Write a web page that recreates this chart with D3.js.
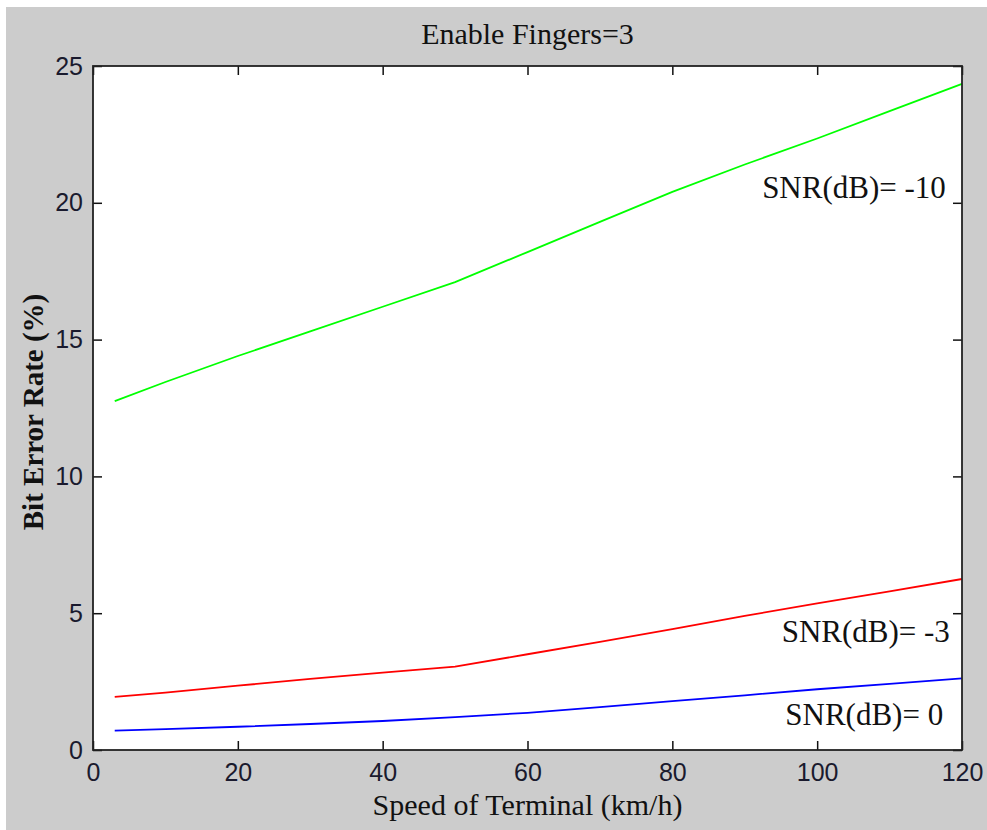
<!DOCTYPE html>
<html>
<head>
<meta charset="utf-8">
<script src="https://cdn.jsdelivr.net/npm/d3@7"></script>
<style>
  html, body { margin: 0; padding: 0; background: #ffffff; }
  svg { display: block; }
</style>
</head>
<body>
<svg id="chart" width="987" height="830"></svg>
<script>
// ---- data ----
const speeds = [3, 10, 20, 30, 40, 50, 60, 70, 80, 90, 100, 110, 120];
const berSnrMinus10 = [12.75, 13.45, 14.4, 15.3, 16.2, 17.1, 18.2, 19.3, 20.4, 21.4, 22.35, 23.35, 24.35];
const berSnrMinus3 = [1.94, 2.1, 2.35, 2.6, 2.83, 3.05, 3.5, 3.95, 4.42, 4.9, 5.36, 5.8, 6.25];
const berSnr0 = [0.71, 0.76, 0.85, 0.95, 1.06, 1.2, 1.36, 1.57, 1.79, 2.0, 2.22, 2.42, 2.62];
const seriesNames = ["SNR(dB)= -10", "SNR(dB)= -3", "SNR(dB)= 0"];
const xTicks = [0, 20, 40, 60, 80, 100, 120];
const yTicks = [0, 5, 10, 15, 20, 25];
const titleText = "Enable Fingers=3";
const xLabel = "Speed of Terminal (km/h)";
const yLabel = "Bit Error Rate (%)";

// ---- layout ----
const svg = d3.select("#chart");
const W = 987, H = 830;
const plot = { left: 93, top: 66, right: 962, bottom: 750 };
const serif = "'Liberation Serif', 'Times New Roman', serif";
const sans = "'Liberation Sans', Arial, sans-serif";

svg.append("rect").attr("x", 6).attr("y", 7).attr("width", W - 6).attr("height", H - 7)
  .attr("fill", "#cccccc");

svg.append("rect")
  .attr("x", plot.left).attr("y", plot.top)
  .attr("width", plot.right - plot.left).attr("height", plot.bottom - plot.top)
  .attr("fill", "#ffffff");

const x = d3.scaleLinear().domain([0, 120]).range([plot.left, plot.right]);
const y = d3.scaleLinear().domain([0, 25]).range([plot.bottom, plot.top]);

function styleAxis(g, family, size) {
  g.attr("font-family", family).attr("font-size", size);
  g.select(".domain").remove();
  g.selectAll(".tick line").attr("stroke", "#111").attr("stroke-width", 1.5);
  g.selectAll(".tick text").attr("fill", "#1a1a2e");
}

const tickLen = 9;
svg.append("g").attr("transform", `translate(0,${plot.bottom})`)
  .call(d3.axisBottom(x).tickValues(xTicks).tickSizeInner(-tickLen).tickSizeOuter(0).tickPadding(13))
  .call(g => styleAxis(g, sans, 25));
svg.append("g").attr("transform", `translate(0,${plot.top})`)
  .call(d3.axisTop(x).tickValues(xTicks).tickSizeInner(-tickLen).tickSizeOuter(0).tickFormat(""))
  .call(g => styleAxis(g, sans, 25));
svg.append("g").attr("transform", `translate(${plot.left},0)`)
  .call(d3.axisLeft(y).tickValues(yTicks).tickSizeInner(-tickLen).tickSizeOuter(0).tickPadding(10))
  .call(g => styleAxis(g, sans, 25));
svg.append("g").attr("transform", `translate(${plot.right},0)`)
  .call(d3.axisRight(y).tickValues(yTicks).tickSizeInner(-tickLen).tickSizeOuter(0).tickFormat(""))
  .call(g => styleAxis(g, sans, 25));

// ---- lines ----
const seriesData = [berSnrMinus10, berSnrMinus3, berSnr0];
const colors = ["#00ff00", "#ff0000", "#0000ff"];
const line = d3.line().x(d => x(d[0])).y(d => y(d[1]));
seriesData.forEach((vals, i) => {
  svg.append("path")
    .datum(speeds.map((s, j) => [s, vals[j]]))
    .attr("fill", "none")
    .attr("stroke", colors[i])
    .attr("stroke-width", 1.8)
    .attr("d", line);
});

// frame
svg.append("rect")
  .attr("x", plot.left).attr("y", plot.top)
  .attr("width", plot.right - plot.left).attr("height", plot.bottom - plot.top)
  .attr("fill", "none").attr("stroke", "#222").attr("stroke-width", 1.8);

// ---- annotations (placed in data coordinates) ----
const labelAnchors = [[92.4, 20.18], [95.1, 3.95], [95.6, 0.91]];
seriesNames.forEach((name, i) => {
  svg.append("text")
    .attr("x", x(labelAnchors[i][0])).attr("y", y(labelAnchors[i][1]))
    .attr("font-family", serif).attr("font-size", 31)
    .attr("fill", "#111")
    .text(name);
});

// ---- titles ----
svg.append("text")
  .attr("x", (plot.left + plot.right) / 2).attr("y", 44)
  .attr("text-anchor", "middle")
  .attr("font-family", serif).attr("font-size", 30).attr("fill", "#111")
  .text(titleText);

svg.append("text")
  .attr("x", (plot.left + plot.right) / 2).attr("y", 815)
  .attr("text-anchor", "middle")
  .attr("font-family", serif).attr("font-size", 30).attr("fill", "#111")
  .text(xLabel);

svg.append("text")
  .attr("transform", `translate(43,${(plot.top + plot.bottom) / 2 + 4}) rotate(-90)`)
  .attr("text-anchor", "middle")
  .attr("font-family", serif).attr("font-size", 29).attr("font-weight", "bold").attr("fill", "#111")
  .text(yLabel);
</script>
</body>
</html>
